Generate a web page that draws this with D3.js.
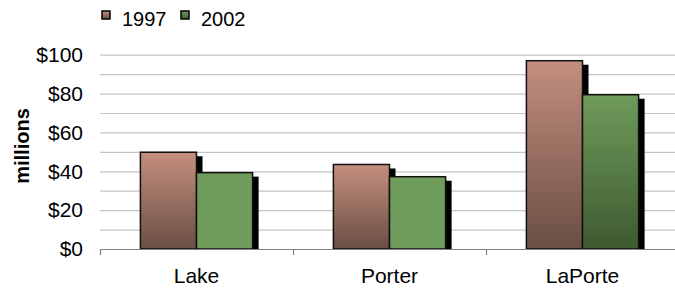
<!DOCTYPE html>
<html>
<head>
<meta charset="utf-8">
<script src="https://cdn.jsdelivr.net/npm/d3@7"></script>
<style>
    body { margin: 0; background: #fff; }
    text { font-family: "Liberation Sans", Arial, sans-serif; fill: #000; font-size: 21px; }
</style>
</head>
<body>
<div id="chart"></div>
<script>
const counties = ["Lake", "Porter", "LaPorte"];
const years = ["1997", "2002"];
const values1997 = [49.8, 43.5, 96.9];
const values2002 = [39.3, 37.2, 79.4];
const yTicks = [0, 20, 40, 60, 80, 100];

const width = 675,
    height = 295;

const svg = d3.select("#chart").append("svg")
    .attr("width", width)
    .attr("height", height);

const defs = svg.append("defs");

function addGradient(id, top, bottom) {
    let g = defs.append("linearGradient")
        .attr("id", id)
        .attr("x1", 0).attr("y1", 0)
        .attr("x2", 0).attr("y2", 1);
    g.append("stop").attr("offset", "0%").attr("stop-color", top);
    g.append("stop").attr("offset", "100%").attr("stop-color", bottom);
}
addGradient("g1997", "#c48f7e", "#6a4e44");
addGradient("g2002", "#6f9b5b", "#3e5a30");

const x0 = d3.scaleBand()
    .domain(counties)
    .range([100, 679]);

const x1 = d3.scaleBand()
    .domain(years)
    .range([0, x0.bandwidth()])
    .paddingOuter(0.72);

const y = d3.scaleLinear()
    .domain([0, 100])
    .range([249, 54.7]);

// gridlines every $10
svg.append("g")
    .selectAll("line")
    .data(d3.range(10, 101, 10))
    .enter().append("line")
    .attr("x1", 100)
    .attr("x2", width)
    .attr("y1", function(d) { return y(d) + 0.5; })
    .attr("y2", function(d) { return y(d) + 0.5; })
    .attr("stroke", "#c4c4c4")
    .attr("stroke-width", 1.2);

// y labels
svg.append("g")
    .selectAll("text")
    .data(yTicks)
    .enter().append("text")
    .attr("x", 83)
    .attr("y", function(d) { return y(d); })
    .attr("dy", "0.35em")
    .attr("text-anchor", "end")
    .text(function(d) { return "$" + d; });

svg.append("text")
    .attr("transform", "translate(29,146) rotate(-90)")
    .attr("text-anchor", "middle")
    .style("font-weight", "bold")
    .style("font-size", "20px")
    .text("millions");

const data = counties.map(function(c, i) {
    return { county: c, values: [
        { year: "1997", value: values1997[i] },
        { year: "2002", value: values2002[i] }
    ]};
});

const groups = svg.append("g")
    .selectAll("g")
    .data(data)
    .enter().append("g")
    .attr("transform", function(d) { return "translate(" + x0(d.county) + ",0)"; });

// shadows first
groups.selectAll("rect.shadow")
    .data(function(d) { return d.values; })
    .enter().append("rect")
    .attr("class", "shadow")
    .attr("x", function(d) { return x1(d.year) + 6; })
    .attr("y", function(d) { return y(d.value) + 4; })
    .attr("width", x1.bandwidth())
    .attr("height", function(d) { return Math.max(0, y(0) - y(d.value) - 4); })
    .attr("fill", "#000");

groups.selectAll("rect.bar")
    .data(function(d) { return d.values; })
    .enter().append("rect")
    .attr("class", "bar")
    .attr("x", function(d) { return x1(d.year); })
    .attr("y", function(d) { return y(d.value); })
    .attr("width", x1.bandwidth())
    .attr("height", function(d) { return y(0) - y(d.value); })
    .attr("fill", function(d) {
        if (d.year === "1997") return "url(#g1997)";
        // only the tall LaPorte bar shows the darker shading
        return d.value > 60 ? "url(#g2002)" : "#6f9b5b";
    })
    .attr("stroke", "#111")
    .attr("stroke-width", 1.5);

// x axis
svg.append("line")
    .attr("x1", 100).attr("x2", width)
    .attr("y1", y(0) + 0.5).attr("y2", y(0) + 0.5)
    .attr("stroke", "#808080")
    .attr("stroke-width", 1.2);

svg.append("g")
    .selectAll("line")
    .data(counties)
    .enter().append("line")
    .attr("x1", function(d) { return x0(d) + 0.5; })
    .attr("x2", function(d) { return x0(d) + 0.5; })
    .attr("y1", y(0))
    .attr("y2", y(0) + 6)
    .attr("stroke", "#808080")
    .attr("stroke-width", 1.2);

svg.append("g")
    .selectAll("text")
    .data(counties)
    .enter().append("text")
    .attr("x", function(d) { return x0(d) + x0.bandwidth() / 2; })
    .attr("y", 283)
    .attr("text-anchor", "middle")
    .text(function(d) { return d; });

// legend
const legendX = [102, 181];
const legend = svg.append("g")
    .selectAll("g")
    .data(years)
    .enter().append("g")
    .attr("transform", function(d, i) { return "translate(" + legendX[i] + ",11)"; });

legend.append("rect")
    .attr("width", 8)
    .attr("height", 8)
    .attr("fill", function(d) { return d === "1997" ? "url(#g1997)" : "url(#g2002)"; })
    .attr("stroke", "#000")
    .attr("stroke-width", 1.5);

legend.append("text")
    .attr("x", 20)
    .attr("y", 14.5)
    .style("font-size", "20px")
    .text(function(d) { return d; });
</script>
</body>
</html>
